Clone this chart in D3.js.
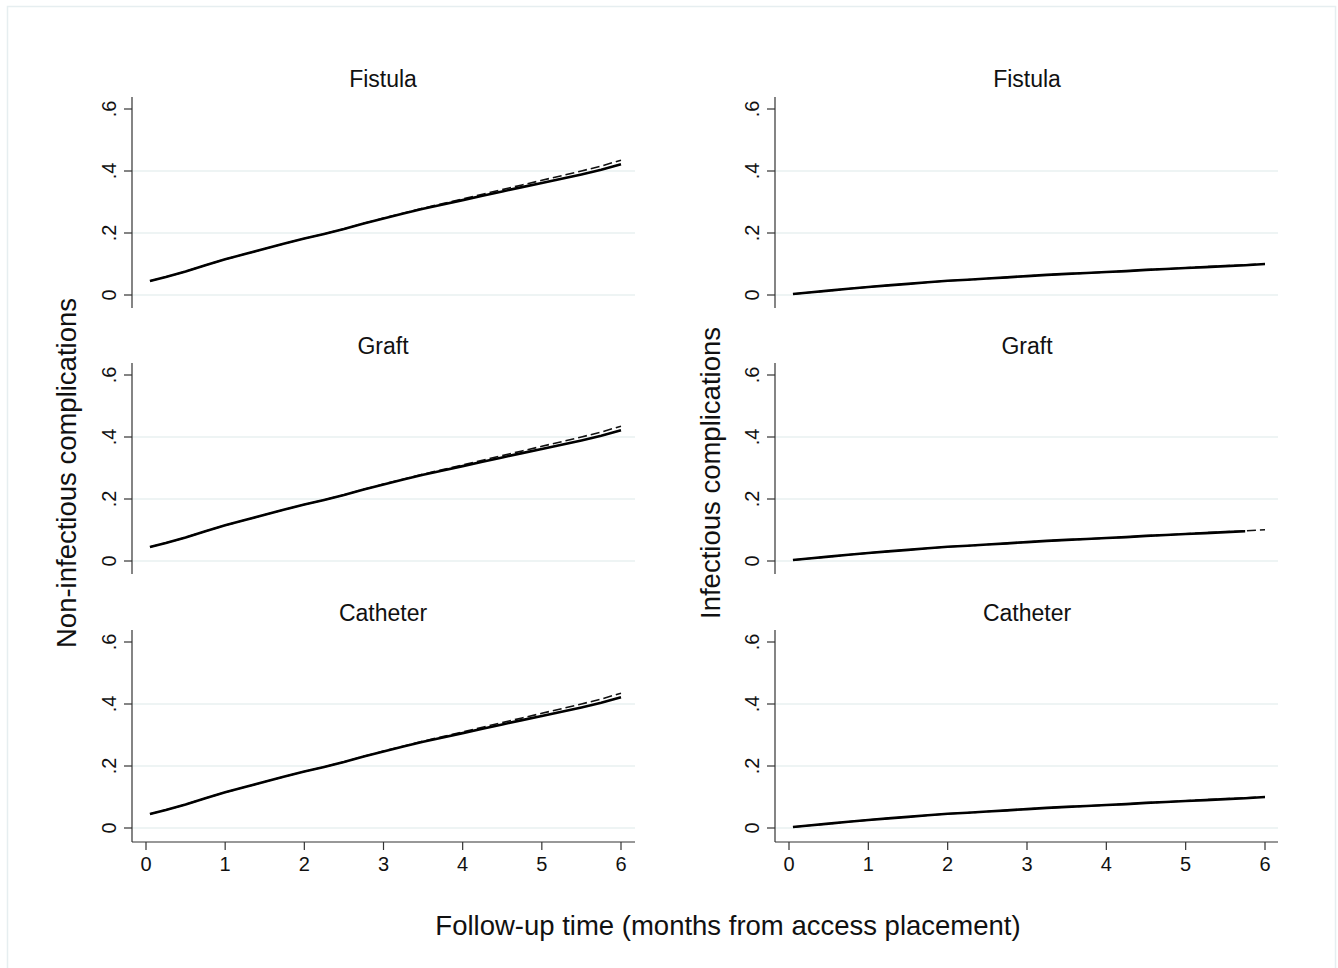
<!DOCTYPE html>
<html><head><meta charset="utf-8">
<script src="https://cdn.jsdelivr.net/npm/d3@7"></script>
<style>body{margin:0;background:#fff;} svg{display:block;font-family:"Liberation Sans",Arial,Helvetica,sans-serif;}</style>
</head><body>
<svg id="c" width="1338" height="968"></svg>
<script>
const panelTitles = ["Fistula", "Graft", "Catheter"];
const columnTitles = ["Non-infectious complications", "Infectious complications"];
const xTitle = "Follow-up time (months from access placement)";
const xTicks = [0, 1, 2, 3, 4, 5, 6];
const yTicks = [0, 0.2, 0.4, 0.6];
const yTickLabels = ["0", ".2", ".4", ".6"];
const gridTicks = [0, 0.2, 0.4];

const times = [0.05, 0.25, 0.5, 0.75, 1, 1.25, 1.5, 1.75, 2, 2.25, 2.5, 2.75, 3, 3.25, 3.5, 3.75, 4, 4.25, 4.5, 4.75, 5, 5.25, 5.5, 5.75, 6];
const nonInfSolid = [0.045, 0.058, 0.076, 0.096, 0.115, 0.132, 0.149, 0.166, 0.182, 0.197, 0.213, 0.231, 0.247, 0.263, 0.278, 0.292, 0.306, 0.320, 0.334, 0.348, 0.361, 0.375, 0.389, 0.404, 0.422];
const nonInfDashed = [0.045, 0.058, 0.076, 0.096, 0.115, 0.132, 0.149, 0.166, 0.182, 0.197, 0.213, 0.231, 0.248, 0.264, 0.280, 0.295, 0.310, 0.325, 0.340, 0.355, 0.370, 0.385, 0.400, 0.416, 0.435];
const infSolid = [0.003, 0.008, 0.014, 0.020, 0.026, 0.031, 0.036, 0.041, 0.046, 0.049, 0.053, 0.057, 0.061, 0.065, 0.068, 0.071, 0.074, 0.077, 0.081, 0.084, 0.087, 0.090, 0.093, 0.096, 0.100];
const infDashed = [0.003, 0.008, 0.014, 0.020, 0.026, 0.031, 0.036, 0.041, 0.046, 0.049, 0.053, 0.057, 0.061, 0.065, 0.068, 0.071, 0.074, 0.077, 0.081, 0.084, 0.088, 0.091, 0.094, 0.097, 0.101];
const graftInfSolidEnd = 5.75; // solid curve stops before 6 in Graft/infectious panel

const svg = d3.select("#c");
// outer frame
svg.append("rect").attr("x", 7.5).attr("y", 6.5).attr("width", 1328).attr("height", 975)
  .attr("fill", "#fff").attr("stroke", "#e6eef0").attr("stroke-width", 1.5);

const cols = [
  {axisX: 132, x0: 146, x6: 621, right: 635, titleX: 383},
  {axisX: 775, x0: 789, x6: 1265, right: 1278, titleX: 1027}
];
const zeroY = [295, 561, 828];
const titleY = [87, 354, 621];

const line = (xs, ys) => d3.line().x(d => xs(d[0])).y(d => ys(d[1]));

cols.forEach((c, ci) => {
  const x = d3.scaleLinear().domain([0, 6]).range([c.x0, c.x6]);
  zeroY.forEach((z, pi) => {
    const y = d3.scaleLinear().domain([0, 0.6]).range([z, z - 186]);
    const g = svg.append("g");
    g.selectAll(".grid").data(gridTicks).enter().append("line")
      .attr("x1", c.axisX).attr("x2", c.right).attr("y1", d => y(d)).attr("y2", d => y(d))
      .attr("stroke", "#e8f0f1").attr("stroke-width", 1.3);
    const isBottom = pi === 2;
    g.append("line").attr("x1", c.axisX).attr("x2", c.axisX)
      .attr("y1", y(0.6) - 12).attr("y2", z + 13 + (isBottom ? 1 : 0))
      .attr("stroke", "#333").attr("stroke-width", 1.2);
    g.selectAll(".yt").data(yTicks).enter().append("line")
      .attr("x1", c.axisX - 8).attr("x2", c.axisX).attr("y1", d => y(d)).attr("y2", d => y(d))
      .attr("stroke", "#333").attr("stroke-width", 1.2);
    g.selectAll(".yl").data(yTicks).enter().append("text")
      .attr("transform", (d) => `translate(${c.axisX - 16},${y(d)}) rotate(-90)`)
      .attr("text-anchor", "middle").attr("font-size", 20).attr("fill", "#111")
      .text((d, i) => yTickLabels[i]);
    g.append("text").attr("x", c.titleX).attr("y", titleY[pi]).attr("text-anchor", "middle")
      .attr("font-size", 23).attr("fill", "#111").text(panelTitles[pi]);
    if (isBottom) {
      const ax = z + 14;
      g.append("line").attr("x1", c.axisX).attr("x2", c.right).attr("y1", ax).attr("y2", ax)
        .attr("stroke", "#333").attr("stroke-width", 1.2);
      g.selectAll(".xt").data(xTicks).enter().append("line")
        .attr("x1", d => x(d)).attr("x2", d => x(d)).attr("y1", ax).attr("y2", ax + 8)
        .attr("stroke", "#333").attr("stroke-width", 1.2);
      g.selectAll(".xl").data(xTicks).enter().append("text")
        .attr("x", d => x(d)).attr("y", ax + 29).attr("text-anchor", "middle")
        .attr("font-size", 20).attr("fill", "#111").text(d => d);
    }
    const solidV = ci === 0 ? nonInfSolid : infSolid;
    const dashV = ci === 0 ? nonInfDashed : infDashed;
    let solidPts = times.map((t, i) => [t, solidV[i]]);
    if (ci === 1 && pi === 1) solidPts = solidPts.filter(p => p[0] <= graftInfSolidEnd);
    const dashPts = times.map((t, i) => [t, dashV[i]]);
    g.append("path").attr("d", line(x, y)(dashPts)).attr("fill", "none")
      .attr("stroke", "#111").attr("stroke-width", 1.6).attr("stroke-dasharray", "9,4");
    g.append("path").attr("d", line(x, y)(solidPts)).attr("fill", "none")
      .attr("stroke", "#000").attr("stroke-width", 2.6);
  });
});

svg.append("text").attr("transform", "translate(76,473) rotate(-90)").attr("text-anchor", "middle")
  .attr("font-size", 27.5).attr("fill", "#111").text(columnTitles[0]);
svg.append("text").attr("transform", "translate(720,473) rotate(-90)").attr("text-anchor", "middle")
  .attr("font-size", 27.5).attr("fill", "#111").text(columnTitles[1]);
svg.append("text").attr("x", 728).attr("y", 935).attr("text-anchor", "middle")
  .attr("font-size", 27.5).attr("fill", "#111").text(xTitle);
</script>
</body></html>
